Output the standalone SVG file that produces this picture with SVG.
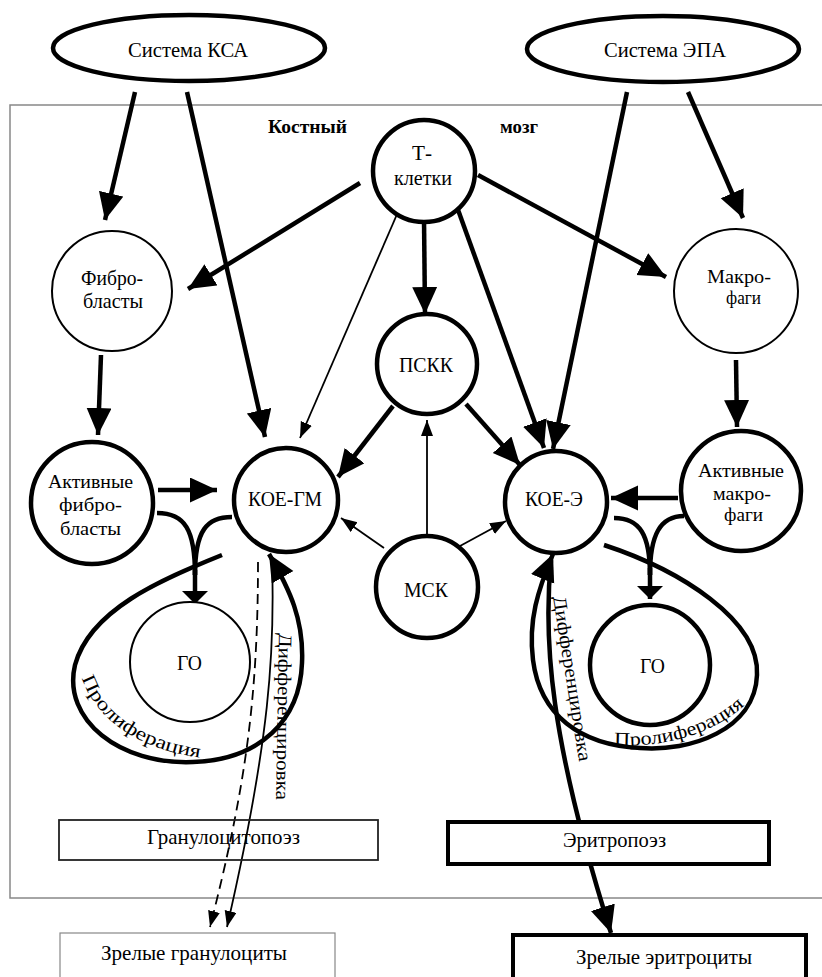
<svg xmlns="http://www.w3.org/2000/svg" xmlns:xlink="http://www.w3.org/1999/xlink" width="822" height="977" viewBox="0 0 822 977">
<style>
text{font-size:21px;fill:#000}
.lbl{font-size:19px}
.b{font-weight:bold;font-size:19px}
.s19{font-size:19px}
.thick{fill:none;stroke:#000;stroke-width:4.5}
.thin{fill:none;stroke:#000;stroke-width:1.8}
.n4{fill:#fff;stroke:#000;stroke-width:4.5}
.n2{fill:#fff;stroke:#000;stroke-width:2}
</style>
<defs>
<marker id="big" markerUnits="userSpaceOnUse" markerWidth="28" markerHeight="26" refX="27" refY="12.5" orient="auto"><path d="M0,0 L27,12.5 L0,25 z" fill="#000"/></marker>
<marker id="sm" markerUnits="userSpaceOnUse" markerWidth="17" markerHeight="13" refX="16" refY="6" orient="auto"><path d="M0,0 L16,6 L0,12 z" fill="#000"/></marker>
<marker id="flat" markerUnits="userSpaceOnUse" markerWidth="14" markerHeight="27" refX="13" refY="13" orient="auto"><path d="M0,0 L13,13 L0,26 z" fill="#000"/></marker>
<path id="proL" d="M82,678 C95,718 140,754 215,759"/>
<path id="proR" d="M614,745 C660,748 712,736 746,704"/>
</defs>

<rect id="marrow" x="10" y="105" width="830" height="793" fill="none" stroke="#888" stroke-width="1.5"/>

<g id="connectors">
<path class="thick" d="M135,92 L105,220" marker-end="url(#big)"/>
<path class="thick" d="M187,92 L265,437" marker-end="url(#big)"/>
<path class="thick" d="M360,183 L188,289" marker-end="url(#big)"/>
<path class="thick" d="M424,218 L425,314" marker-end="url(#big)"/>
<path class="thick" d="M457,207 L544,448" marker-end="url(#big)"/>
<path class="thick" d="M627,92 L553,449" marker-end="url(#big)"/>
<path class="thick" d="M688,92 L743,218" marker-end="url(#big)"/>
<path class="thick" d="M478,175 L666,277" marker-end="url(#big)"/>
<path class="thick" d="M101,355 L98,435" marker-end="url(#big)"/>
<path class="thick" d="M736,360 L737,427" marker-end="url(#big)"/>
<path class="thick" d="M158,490 L217,490" marker-end="url(#big)"/>
<path class="thick" d="M678,498 L611,498" marker-end="url(#big)"/>
<path class="thick" d="M393,406 L338,477" marker-end="url(#big)"/>
<path class="thick" d="M466,404 L520,465" marker-end="url(#big)"/>
<path class="thin" d="M398,212 L300,438" marker-end="url(#sm)"/>
<path class="thin" d="M427,536 L427,420" marker-end="url(#sm)"/>
<path class="thin" d="M384,548 L341,518" marker-end="url(#sm)"/>
<path class="thin" d="M460,546 L506,521" marker-end="url(#sm)"/>
<path class="thick" d="M157,513 C185,513 195,530 195,575"/>
<path class="thick" d="M232,517 C207,517 195,530 195,575"/>
<path class="thick" d="M195,570 L195,604" marker-end="url(#flat)"/>
<path class="thick" d="M614,518 C640,518 650,535 650,575"/>
<path class="thick" d="M684,516 C660,516 650,535 650,575"/>
<path class="thick" d="M650,568 L650,599" marker-end="url(#flat)"/>
<path class="thick" d="M222,555 C160,580 90,610 75,665 C62,720 120,765 193,762 C260,760 300,720 302,663 C304,620 290,590 269,554" marker-end="url(#big)"/>
<path class="thick" d="M604,545 C680,570 760,620 757,675 C755,730 690,752 640,748 C580,745 540,715 533,660 C528,620 538,590 553,554" marker-end="url(#big)"/>
<path class="thin" d="M272,560 C275,650 270,740 227,927" marker-end="url(#sm)"/>
<path class="thin" d="M258,562 C258,700 245,790 210,927" stroke-dasharray="10 6" marker-end="url(#sm)"/>
<path class="thick" d="M551,560 C543,640 550,740 611,933" marker-end="url(#big)"/>
</g>

<g id="nodes-shapes">
<g id="kca"><ellipse cx="189" cy="48" rx="136" ry="33" class="n4"/></g>
<g id="epa"><ellipse cx="663" cy="49" rx="136" ry="33" class="n4"/></g>
<g id="tcells"><circle cx="424" cy="171" r="51" class="n4"/></g>
<g id="fibro"><circle cx="112" cy="291" r="60" class="n2"/></g>
<g id="macro"><circle cx="736" cy="291" r="62" class="n2"/></g>
<g id="psk"><circle cx="427" cy="364" r="50" class="n4"/></g>
<g id="koegm"><circle cx="286" cy="500" r="52" class="n4"/></g>
<g id="koee"><circle cx="556" cy="502" r="51" class="n4"/></g>
<g id="msk"><circle cx="427" cy="587" r="51" class="n4"/></g>
<g id="actfibro"><circle cx="92" cy="503" r="61" class="n4"/></g>
<g id="actmacro"><circle cx="741" cy="491" r="60" class="n4"/></g>
<g id="goL"><circle cx="190" cy="662" r="60" class="n2"/></g>
<g id="goR"><circle cx="650" cy="665" r="60" class="n4"/></g>
<g id="granulo"><rect x="59" y="820" width="319" height="40" fill="none" stroke="#222" stroke-width="1.8"/></g>
<g id="matgran"><rect x="60" y="933" width="275" height="60" fill="#fff" stroke="#888" stroke-width="1.2"/></g>
<g id="erythro"><rect x="448" y="822" width="321" height="42" fill="#fff" stroke="#000" stroke-width="4"/></g>
<g id="matery"><rect x="513" y="935" width="293" height="60" fill="#fff" stroke="#000" stroke-width="4"/></g>
</g>

<g id="labels" font-family="Liberation Serif, Times New Roman, Tinos, DejaVu Serif, serif" lengthAdjust="spacingAndGlyphs">
<text class="b" x="268" y="133" textLength="79" lengthAdjust="spacingAndGlyphs">Костный</text>
<text class="b" x="500" y="133" textLength="38" lengthAdjust="spacingAndGlyphs">мозг</text>
<text class="lbl" transform="translate(279,633) rotate(91)" textLength="167" lengthAdjust="spacingAndGlyphs">Дифференцировка</text>
<text class="lbl" transform="translate(553,597) rotate(81)" textLength="167" lengthAdjust="spacingAndGlyphs">Дифференцировка</text>
<text class="lbl"><textPath xlink:href="#proL" textLength="150" lengthAdjust="spacingAndGlyphs">Пролиферация</textPath></text>
<text class="lbl"><textPath xlink:href="#proR" textLength="140" lengthAdjust="spacingAndGlyphs">Пролиферация</textPath></text>
<text x="128" y="57" textLength="120" lengthAdjust="spacingAndGlyphs">Система КСА</text>
<text x="604" y="57" textLength="122" lengthAdjust="spacingAndGlyphs">Система ЭПА</text>
<text x="412" y="160" textLength="20" lengthAdjust="spacingAndGlyphs">Т-</text>
<text x="394" y="185" textLength="58" lengthAdjust="spacingAndGlyphs">клетки</text>
<text x="81" y="285" textLength="62" lengthAdjust="spacingAndGlyphs">Фибро-</text>
<text x="83" y="308" textLength="60" lengthAdjust="spacingAndGlyphs">бласты</text>
<text class="s19" x="707" y="283" textLength="64" lengthAdjust="spacingAndGlyphs">Макро-</text>
<text class="s19" x="726" y="304" textLength="35" lengthAdjust="spacingAndGlyphs">фаги</text>
<text x="399" y="372" textLength="54" lengthAdjust="spacingAndGlyphs">ПСКК</text>
<text x="248" y="506" textLength="74" lengthAdjust="spacingAndGlyphs">КОЕ-ГМ</text>
<text x="525" y="506" textLength="58" lengthAdjust="spacingAndGlyphs">КОЕ-Э</text>
<text x="404" y="597" textLength="44" lengthAdjust="spacingAndGlyphs">МСК</text>
<text class="s19" x="48" y="488" textLength="85" lengthAdjust="spacingAndGlyphs">Активные</text>
<text class="s19" x="59" y="511" textLength="63" lengthAdjust="spacingAndGlyphs">фибро-</text>
<text class="s19" x="60" y="535" textLength="61" lengthAdjust="spacingAndGlyphs">бласты</text>
<text class="s19" x="698" y="477" textLength="86" lengthAdjust="spacingAndGlyphs">Активные</text>
<text class="s19" x="713" y="500" textLength="58" lengthAdjust="spacingAndGlyphs">макро-</text>
<text class="s19" x="724" y="521" textLength="39" lengthAdjust="spacingAndGlyphs">фаги</text>
<text x="177" y="670" textLength="25" lengthAdjust="spacingAndGlyphs">ГО</text>
<text x="640" y="673" textLength="25" lengthAdjust="spacingAndGlyphs">ГО</text>
<text x="147" y="844" textLength="153" lengthAdjust="spacingAndGlyphs">Гранулоцитопоэз</text>
<text x="101" y="960" textLength="186" lengthAdjust="spacingAndGlyphs">Зрелые гранулоциты</text>
<text x="563" y="847" textLength="103" lengthAdjust="spacingAndGlyphs">Эритропоэз</text>
<text x="576" y="964" textLength="176" lengthAdjust="spacingAndGlyphs">Зрелые эритроциты</text>
</g>
</svg>
